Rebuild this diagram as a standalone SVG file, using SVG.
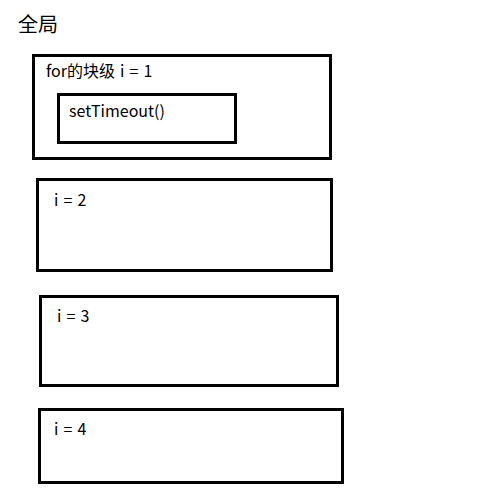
<svg xmlns="http://www.w3.org/2000/svg" width="489" height="490" viewBox="0 0 489 490">
<style>
.box{fill:none;stroke:#000;stroke-width:3}
text{font-family:"Noto Sans CJK SC","Noto Sans",sans-serif;fill:#000;font-size:16px;word-spacing:1.5px}
</style>
<rect width="489" height="490" fill="#fff"/>
<text id="title" x="18" y="32" style="font-size:20px">全局</text>
<g id="block1">
<rect class="box" x="33.5" y="55.5" width="297" height="103"/>
<text x="46" y="77">for的块级 i = 1</text>
</g>
<g id="timeout">
<rect class="box" x="58.5" y="94.5" width="177" height="48"/>
<text x="69" y="117">setTimeout()</text>
</g>
<g id="block2">
<rect class="box" x="37.5" y="179.5" width="294" height="91"/>
<text x="54" y="206">i = 2</text>
</g>
<g id="block3">
<rect class="box" x="40.5" y="296.5" width="297" height="89"/>
<text x="57" y="322">i = 3</text>
</g>
<g id="block4">
<rect class="box" x="39.5" y="409.5" width="303" height="73"/>
<text x="54" y="435">i = 4</text>
</g>
<g id="connectors"/>
</svg>
